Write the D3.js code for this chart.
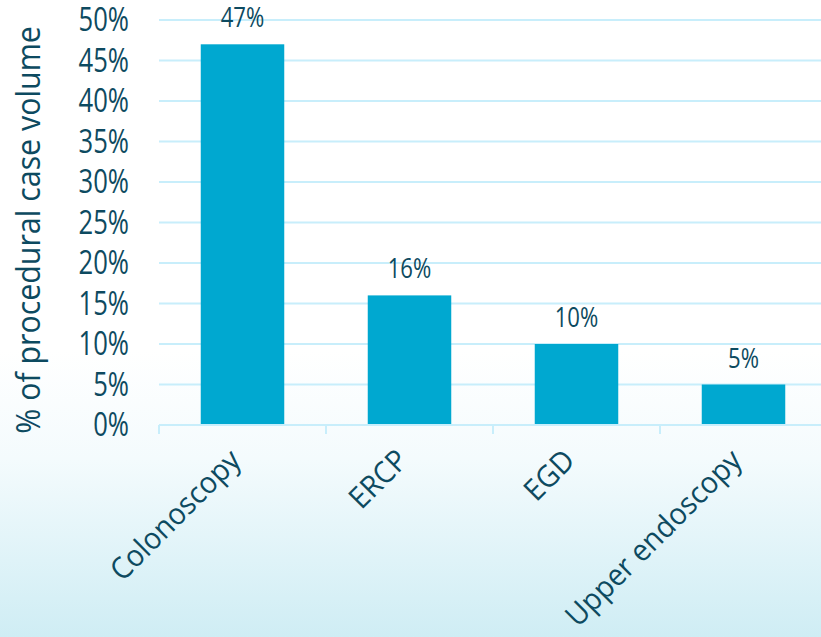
<!DOCTYPE html>
<html>
<head>
<meta charset="utf-8">
<script src="https://cdn.jsdelivr.net/npm/d3@7"></script>
<style>
  html, body { margin: 0; padding: 0; }
  svg { display: block; }
  text { font-family: "Open Sans", "Noto Sans", sans-serif; fill: #0d4a60; }
</style>
</head>
<body>
<svg id="chart" width="821" height="637"></svg>
<script>
// Share of procedural case volume by procedure type
const categories = ["Colonoscopy", "ERCP", "EGD", "Upper endoscopy"];
const shares = [47, 16, 10, 5];
const yTicks = [0, 5, 10, 15, 20, 25, 30, 35, 40, 45, 50];
const yTitle = "% of procedural case volume";

const W = 821, H = 637;
const plot = { left: 159, right: 827, top: 20, bottom: 425 };
const gridColor = "#c8eefb";
// the typeface used here is set slightly narrow to keep labels compact
const squeeze = 0.8;

const svg = d3.select("#chart");

// soft white-to-aqua backdrop
const defs = svg.append("defs");
const grad = defs.append("linearGradient")
  .attr("id", "bg").attr("x1", 0).attr("y1", 0).attr("x2", 0).attr("y2", 1);
grad.append("stop").attr("offset", "0").attr("stop-color", "#ffffff");
grad.append("stop").attr("offset", "0.55").attr("stop-color", "#ffffff");
grad.append("stop").attr("offset", "0.72").attr("stop-color", "#f4fbfd");
grad.append("stop").attr("offset", "1").attr("stop-color", "#cfedf4");
svg.append("rect").attr("width", W).attr("height", H).attr("fill", "url(#bg)");

const x = d3.scaleBand()
  .domain(categories)
  .range([plot.left, plot.right])
  .paddingInner(0.5)
  .paddingOuter(0.25);

const y = d3.scaleLinear()
  .domain([0, 50])
  .range([plot.bottom, plot.top]);

// horizontal gridlines
svg.append("g")
  .selectAll("line")
  .data(yTicks.filter(d => d > 0))
  .join("line")
  .attr("x1", plot.left).attr("x2", W)
  .attr("y1", d => y(d)).attr("y2", d => y(d))
  .attr("stroke", gridColor).attr("stroke-width", 2);

// y axis labels
const yAxis = d3.axisLeft(y)
  .tickValues(yTicks)
  .tickFormat(d => d + "%")
  .tickSize(0)
  .tickPadding(0);
const yg = svg.append("g")
  .attr("transform", `translate(${plot.left - 30},0)`)
  .call(yAxis);
yg.select(".domain").remove();
yg.selectAll(".tick text")
  .attr("x", 0)
  .attr("font-size", 32)
  .attr("fill", "#0d4a60")
  .attr("dy", "0.34em")
  .attr("transform", `scale(${squeeze},1)`);

// bars
svg.append("g")
  .selectAll("rect")
  .data(categories)
  .join("rect")
  .attr("x", d => x(d))
  .attr("width", x.bandwidth())
  .attr("y", (d, i) => y(shares[i]))
  .attr("height", (d, i) => y(0) - y(shares[i]))
  .attr("fill", "#00a8d0");

// value labels above bars
svg.append("g")
  .selectAll("text")
  .data(categories)
  .join("text")
  .attr("transform", (d, i) =>
    `translate(${x(d) + x.bandwidth() / 2},${y(shares[i]) - 17}) scale(0.82,1)`)
  .attr("text-anchor", "middle")
  .attr("font-size", 27)
  .text((d, i) => shares[i] + "%");

// x axis baseline with category separators
const xg = svg.append("g")
  .attr("transform", `translate(0,${plot.bottom})`);
xg.append("line")
  .attr("x1", plot.left).attr("x2", W)
  .attr("y1", 0).attr("y2", 0)
  .attr("stroke", gridColor).attr("stroke-width", 2);
xg.selectAll("line.sep")
  .data(categories.map(c => x(c) - x.step() * x.paddingInner() / 2))
  .join("line")
  .attr("class", "sep")
  .attr("x1", d => d).attr("x2", d => d)
  .attr("y1", 0).attr("y2", 9)
  .attr("stroke", gridColor).attr("stroke-width", 2);

// rotated category labels
svg.append("g")
  .selectAll("text")
  .data(categories)
  .join("text")
  .attr("transform", d =>
    `translate(${x(d) + x.bandwidth() / 2 - 13},${plot.bottom + 24}) rotate(-45) scale(0.95,1)`)
  .attr("text-anchor", "end")
  .attr("dy", "0.62em")
  .attr("font-size", 30)
  .text(d => d);

// y axis title
svg.append("text")
  .attr("transform", `translate(40,230) rotate(-90) scale(0.92,1)`)
  .attr("text-anchor", "middle")
  .attr("font-size", 33)
  .text(yTitle);
</script>
</body>
</html>
